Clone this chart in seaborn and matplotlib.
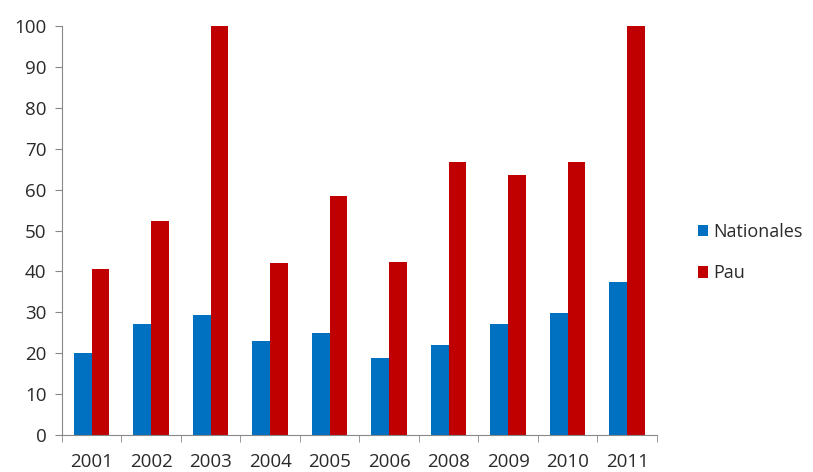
import matplotlib
matplotlib.use('Agg')
import matplotlib.pyplot as plt
import pandas as pd
import seaborn as sns

# Data
years = ['2001', '2002', '2003', '2004', '2005', '2006', '2008', '2009', '2010', '2011']
nationales = [20.0, 27.2, 29.4, 23.0, 24.9, 18.8, 22.1, 27.2, 29.8, 37.5]
pau = [40.6, 52.4, 100.0, 42.0, 58.5, 42.3, 66.7, 63.6, 66.7, 100.0]
series = ['Nationales', 'Pau']
colors = ['#0070C0', '#C00000']

df = pd.DataFrame({'Année': years * 2,
                   'Valeur': nationales + pau,
                   'Série': ['Nationales'] * len(years) + ['Pau'] * len(years)})

sns.set_style('white')
plt.rcParams['font.family'] = ['Open Sans', 'DejaVu Sans']

fig = plt.figure(figsize=(8.13, 4.72), dpi=100)
ax = fig.add_axes([0.076, 0.078, 0.732, 0.867])
sns.barplot(data=df, x='Année', y='Valeur', hue='Série', hue_order=series,
            order=years, palette=colors, width=0.6, saturation=1, linewidth=0, ax=ax)

ax.set_xlim(-0.5, len(years) - 0.5)
ax.set_ylim(0, 100)
ax.set_yticks(range(0, 101, 10))
ax.set_xlabel('')
ax.set_ylabel('')

# Excel style ticks: marks between categories, labels centred
ax.set_xticks([i - 0.5 for i in range(len(years) + 1)], minor=True)
ax.tick_params(axis='x', which='major', length=0, pad=13, labelsize=13.5, labelcolor='#2a2a2a')
ax.tick_params(axis='x', which='minor', length=5, color='#888888', direction='out', bottom=True)
ax.tick_params(axis='y', length=5, color='#888888', direction='out', left=True, labelsize=13.5,
               labelcolor='#2a2a2a', pad=6)

sns.despine(ax=ax, top=True, right=True)
ax.spines['left'].set_color('#888888')
ax.spines['bottom'].set_color('#888888')

leg = ax.legend(loc='center left', bbox_to_anchor=(0.838, 0.465), bbox_transform=fig.transFigure,
                frameon=False, fontsize=13, handlelength=0.6, handleheight=0.6,
                handletextpad=0.25, labelspacing=1.3)
for t in leg.get_texts():
    t.set_color('#2a2a2a')

fig.savefig('out.png', dpi=100)
